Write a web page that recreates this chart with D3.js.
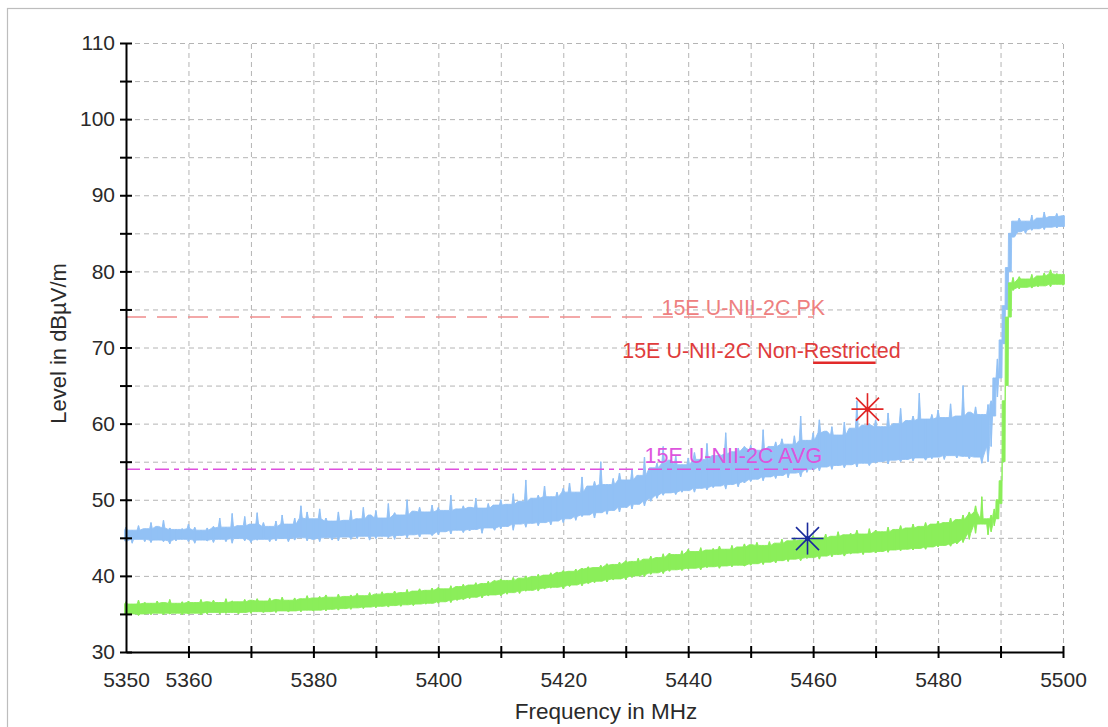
<!DOCTYPE html>
<html><head><meta charset="utf-8">
<script src="https://cdn.jsdelivr.net/npm/d3@7"></script>
<style>
body{margin:0;background:#fff;}
svg{display:block;font-family:"Liberation Sans",Arial,sans-serif;}
</style>
</head><body>
<svg id="c" width="1108" height="727"></svg>
<script>
// ---------------- DATA ----------------
const freqs = [
5350,5351,5352,5353,5354,5355,5356,5357,5358,5359,
5360,5361,5362,5363,5364,5365,5366,5367,5368,5369,
5370,5371,5372,5373,5374,5375,5376,5377,5378,5379,
5380,5381,5382,5383,5384,5385,5386,5387,5388,5389,
5390,5391,5392,5393,5394,5395,5396,5397,5398,5399,
5400,5401,5402,5403,5404,5405,5406,5407,5408,5409,
5410,5411,5412,5413,5414,5415,5416,5417,5418,5419,
5420,5421,5422,5423,5424,5425,5426,5427,5428,5429,
5430,5431,5432,5433,5434,5435,5436,5437,5438,5439,
5440,5441,5442,5443,5444,5445,5446,5447,5448,5449,
5450,5451,5452,5453,5454,5455,5456,5457,5458,5459,
5460,5461,5462,5463,5464,5465,5466,5467,5468,5469,
5470,5471,5472,5473,5474,5475,5476,5477,5478,5479,
5480,5481,5482,5483,5484,5485,5486,5487,
5488,5488.5,5489,5489.5,5490,5490.5,5491,5491.5,5492,
5493,5494,5495,5496,5497,5498,5499,5500];

// Peak trace (blue): lower and upper edge of the noisy band, dBµV/m
const pkLow = [
44.6,44.3,44.8,44.5,44.4,44.7,44.5,44.2,44.6,44.8,
44.5,44.3,44.7,44.6,44.4,44.8,44.5,44.3,44.9,44.6,
44.4,44.7,44.8,44.5,44.6,44.9,44.5,44.7,45.0,44.6,
44.8,44.5,45.0,44.7,44.6,45.1,44.8,44.9,45.2,44.7,
44.9,45.2,45.0,44.8,45.3,45.0,45.4,45.1,45.5,45.3,
45.4,45.8,45.5,46.0,45.7,45.9,46.1,45.6,46.3,46.0,
46.2,46.5,46.0,46.8,46.4,46.9,46.6,47.0,46.7,47.2,
47.0,47.5,47.3,47.8,48.0,47.6,48.3,48.1,48.6,48.4,
49.0,48.8,49.4,49.2,49.8,50.2,50.6,50.9,50.7,51.0,
51.2,51.0,51.5,51.3,51.6,51.8,51.4,52.0,51.7,52.2,
52.4,52.7,52.5,53.0,52.8,53.2,52.9,53.5,53.0,53.6,
54.0,53.8,54.3,54.0,54.5,54.2,54.6,54.3,54.8,54.5,
54.8,55.0,54.7,55.2,55.0,55.3,55.1,55.5,55.2,55.4,
55.6,55.3,55.8,55.5,55.7,55.4,55.6,54.8,
55.0,57.0,61.0,63.5,66.0,70.5,75.0,80.0,84.5,
85.2,85.0,85.4,85.6,85.5,85.8,85.7,85.9];
const pkHigh = [
46.4,46.0,46.6,46.2,47.0,46.5,47.3,46.3,46.1,46.2,
46.8,46.4,46.0,46.3,46.5,47.6,46.4,48.2,46.6,47.8,
46.8,48.3,47.0,46.5,47.2,48.0,46.8,47.6,49.2,48.4,
47.5,48.8,47.6,47.2,48.4,47.3,48.6,47.5,49.0,48.0,
48.6,47.6,49.5,48.3,48.0,50.0,48.5,49.0,48.4,49.3,
49.0,48.6,50.6,48.8,49.2,49.0,50.2,48.9,49.5,49.3,
50.0,49.4,50.8,49.8,52.6,50.2,50.6,51.8,50.4,51.0,
51.5,52.2,51.0,53.0,51.8,52.4,55.0,52.0,52.8,53.5,
52.6,54.0,53.2,55.6,54.2,54.8,57.0,55.2,55.8,54.6,
55.5,56.2,55.3,57.4,55.8,56.0,58.8,56.3,56.8,57.0,
57.2,56.5,59.2,57.0,57.6,58.0,57.3,58.4,61.0,57.8,
58.8,60.5,59.0,59.6,58.5,60.2,59.4,63.0,59.8,60.0,
60.5,59.6,61.4,60.0,62.0,60.4,61.0,64.0,60.6,61.2,
61.8,60.8,62.6,61.0,65.0,61.5,62.2,61.2,
62.5,63.0,66.0,68.5,71.0,75.5,80.5,85.0,86.6,
87.0,86.6,87.4,87.0,87.8,87.2,87.6,87.3];

// Average trace (green): lower and upper edge of the band, dBµV/m
const avLow = [
34.9,35.0,34.8,35.0,34.9,35.1,34.9,35.0,35.1,34.9,
35.0,35.1,34.9,35.0,35.2,35.0,35.1,35.2,35.0,35.2,
35.1,35.3,35.2,35.3,35.2,35.4,35.3,35.4,35.3,35.5,
35.4,35.5,35.4,35.6,35.5,35.7,35.6,35.8,35.7,35.9,
35.8,36.0,35.9,36.1,36.0,36.2,36.1,36.3,36.3,36.4,
36.4,36.6,36.5,36.8,36.9,37.0,37.2,37.1,37.4,37.5,
37.4,37.6,37.8,37.7,38.0,38.1,38.0,38.3,38.4,38.5,
38.3,38.6,38.8,38.7,39.0,39.1,39.3,39.2,39.5,39.6,
39.5,39.8,40.0,39.9,40.2,40.4,40.3,40.6,40.8,40.7,
40.9,41.0,40.8,41.1,41.2,41.0,41.3,41.2,41.4,41.3,
41.4,41.6,41.5,41.8,41.7,42.0,41.9,42.2,42.0,42.3,
42.4,42.2,42.6,42.5,42.8,42.6,42.9,43.0,42.8,43.1,
43.0,43.2,43.1,43.4,43.3,43.5,43.4,43.6,43.5,43.8,
43.8,44.0,43.9,44.2,44.4,44.8,45.6,46.8,
45.4,45.8,46.6,47.5,49.5,55.0,65.0,74.0,77.5,
77.7,77.9,77.8,78.0,78.1,78.0,78.3,78.2];
const avHigh = [
36.6,36.3,36.8,36.5,36.4,36.7,36.5,36.9,36.4,36.6,
36.7,36.5,36.9,36.6,36.8,36.5,37.0,36.7,36.6,36.9,
36.8,37.0,36.7,37.1,36.9,37.2,36.8,37.1,37.0,37.4,
37.1,37.3,37.5,37.2,37.6,37.3,37.5,37.7,37.4,37.8,
37.6,37.9,37.7,38.0,37.8,38.2,38.0,38.3,38.1,38.4,
38.5,38.3,38.7,38.6,38.9,38.8,39.1,39.0,39.3,39.4,
39.6,39.4,39.8,39.7,40.0,39.9,40.2,40.1,40.4,40.5,
40.7,40.6,40.9,41.0,41.2,41.1,41.4,41.6,41.5,41.8,
42.0,41.9,42.3,42.2,42.6,42.4,42.9,43.0,42.8,43.3,
43.5,43.2,43.7,43.4,43.6,43.9,43.5,44.0,43.8,44.2,
44.1,44.4,44.0,44.5,44.3,44.8,44.6,45.0,44.7,45.2,
45.3,45.0,45.5,45.2,45.8,45.4,45.6,46.0,45.5,46.2,
46.0,45.8,46.4,46.1,46.6,46.3,46.8,46.5,47.0,46.8,
47.2,47.0,47.6,47.4,48.0,48.4,49.2,50.4,
47.5,48.0,48.8,50.0,52.5,63.0,74.0,78.5,79.2,
79.3,79.0,79.6,79.4,79.8,80.2,79.7,79.6];

const xTickValues = [5350,5360,5370,5380,5390,5400,5410,5420,5430,5440,5450,5460,5470,5480,5490,5500];
const xTickLabels = [5350,5360,5380,5400,5420,5440,5460,5480,5500];
const yTickValues = [30,35,40,45,50,55,60,65,70,75,80,85,90,95,100,105,110];
const yTickLabels = [30,40,50,60,70,80,90,100,110];

const limitNames  = ["15E U-NII-2C PK","15E U-NII-2C Non-Restricted","15E U-NII-2C AVG"];
const limitLevels = [74,68,54];
const limitStart  = [5350,5460,5350];
const limitEnd    = [5460,5470,5460];

const markerFreqs  = [5468.7,5459.1];
const markerLevels = [61.9,44.9];

const xTitle = "Frequency in MHz";
const yTitle = "Level in dBµV/m";

// ---------------- STYLE ----------------
const W = 1108, H = 727;
const plot = {left:126, right:1063, top:43, bottom:652};
const limitStyles = [
  {color:"#f08c8c", dash:"20,11", width:1.6, label:"#ee8080", lx:12, ly:-2},
  {color:"#e22a2a", dash:null,    width:2.6, label:"#e03c3c", lx:25, ly:-5},
  {color:"#de4fde", dash:"14,5,5,5", width:1.6, label:"#dd55dd", lx:9, ly:-6}
];
const markerColors = ["#e02424","#1a2a9c"];
const pkColor = "#92c1f5", avColor = "#8bee5a";

// ---------------- DRAW ----------------
const svg = d3.select("#c");
svg.append("rect").attr("width",W).attr("height",H).attr("fill","#fff");
svg.append("rect").attr("x",7.5).attr("y",8.5).attr("width",W+20).attr("height",H+20)
   .attr("fill","none").attr("stroke","#bdbdbd").attr("stroke-width",1.2);

const x = d3.scaleLinear().domain([5350,5500]).range([plot.left,plot.right]);
const y = d3.scaleLinear().domain([30,110]).range([plot.bottom,plot.top]);

// grid
const gx = svg.append("g").attr("transform",`translate(0,${plot.bottom})`)
  .call(d3.axisBottom(x).tickValues(xTickValues.filter(v=>v>5350)).tickSize(-(plot.bottom-plot.top)).tickFormat(""));
gx.select(".domain").remove();
gx.selectAll("line").attr("stroke","#b4b4b4").attr("stroke-dasharray","5,4").attr("stroke-width",1);
const gy = svg.append("g").attr("transform",`translate(${plot.left},0)`)
  .call(d3.axisLeft(y).tickValues(yTickValues.filter(v=>v>30)).tickSize(-(plot.right-plot.left)).tickFormat(""));
gy.select(".domain").remove();
gy.selectAll("line").attr("stroke","#b4b4b4").attr("stroke-dasharray","5,4").attr("stroke-width",1);

// traces: noisy band drawn with a needle at every sample
function drawTrace(lo, hi, color){
  const n = freqs.length, top = [], bot = [];
  for (let i=0;i<n;i++){
    const a = Math.max(0,i-1), b = Math.min(n-1,i+1);
    let bt = Math.min(hi[a],hi[i],hi[b]), bb = Math.max(lo[a],lo[i],lo[b]);
    if (bt < bb) { bt = hi[i]; bb = lo[i]; }
    const px = x(freqs[i]);
    top.push([px-1.4,y(bt)],[px,y(hi[i])],[px+1.4,y(bt)]);
    bot.push([px-1.4,y(bb)],[px,y(lo[i])],[px+1.4,y(bb)]);
  }
  const pts = top.concat(bot.reverse());
  svg.append("path").attr("d", d3.line()(pts)+"Z")
    .attr("fill",color).attr("stroke",color).attr("stroke-width",0.9).attr("stroke-linejoin","miter");
  const g = svg.append("g");
  freqs.forEach((f,i)=>{
    g.append("line").attr("x1",x(f)).attr("x2",x(f)).attr("y1",y(lo[i])).attr("y2",y(hi[i]))
      .attr("stroke",color).attr("stroke-width",1.4);
  });
}
drawTrace(pkLow, pkHigh, pkColor);
drawTrace(avLow, avHigh, avColor);

// limit lines
limitNames.forEach((name,i)=>{
  const s = limitStyles[i];
  const ln = svg.append("line")
    .attr("x1",x(limitStart[i])).attr("x2",x(limitEnd[i]))
    .attr("y1",y(limitLevels[i])).attr("y2",y(limitLevels[i]))
    .attr("stroke",s.color).attr("stroke-width",s.width);
  if (s.dash) ln.attr("stroke-dasharray",s.dash);
});
limitNames.forEach((name,i)=>{
  const s = limitStyles[i];
  svg.append("text").text(name)
    .attr("x",x(limitEnd[i])+s.lx).attr("y",y(limitLevels[i])+s.ly)
    .attr("text-anchor","end").attr("font-size",21.5).attr("fill",s.label);
});

// axes
const ax = svg.append("g").attr("transform",`translate(0,${plot.bottom})`)
  .call(d3.axisBottom(x).tickValues(xTickValues).tickSize(6).tickSizeOuter(0).tickPadding(14)
    .tickFormat(d=> xTickLabels.includes(d) ? d : ""));
ax.select(".domain").attr("stroke","#000").attr("stroke-width",2);
ax.selectAll(".tick line").attr("y1",-6).attr("stroke","#000").attr("stroke-width",2);
ax.selectAll(".tick").filter(d=>d===5350).select("line").remove();
ax.selectAll("text").attr("font-size",21).attr("fill","#2a2a2a").attr("font-family","Liberation Sans, Arial, sans-serif");

const ay = svg.append("g").attr("transform",`translate(${plot.left},0)`)
  .call(d3.axisLeft(y).tickValues(yTickValues).tickSize(6).tickSizeOuter(0).tickPadding(5)
    .tickFormat(d=> yTickLabels.includes(d) ? d : ""));
ay.select(".domain").attr("stroke","#000").attr("stroke-width",2);
ay.selectAll(".tick line").attr("x1",6).attr("stroke","#000").attr("stroke-width",2);
ay.selectAll("text").attr("font-size",21).attr("fill","#2a2a2a").attr("font-family","Liberation Sans, Arial, sans-serif");

// titles
svg.append("text").text(xTitle).attr("x",606).attr("y",719)
  .attr("text-anchor","middle").attr("font-size",22.5).attr("fill","#2a2a2a");
svg.append("text").text(yTitle)
  .attr("transform",`translate(66,${(plot.top+plot.bottom)/2-4}) rotate(-90)`)
  .attr("text-anchor","middle").attr("font-size",22).attr("fill","#2a2a2a");

// markers (asterisks)
markerFreqs.forEach((f,i)=>{
  const cx = x(f), cy = y(markerLevels[i]);
  const g = svg.append("g").attr("transform",`translate(${cx},${cy})`);
  const arms = [[16,0],[0,16],[11.5,11.5],[11.5,-11.5]];
  arms.forEach(a=>{
    g.append("line").attr("x1",-a[0]).attr("y1",-a[1]).attr("x2",a[0]).attr("y2",a[1])
      .attr("stroke",markerColors[i]).attr("stroke-width",1.6);
  });
  g.append("circle").attr("r",2.5).attr("fill",markerColors[i]);
});
</script>
</body></html>
